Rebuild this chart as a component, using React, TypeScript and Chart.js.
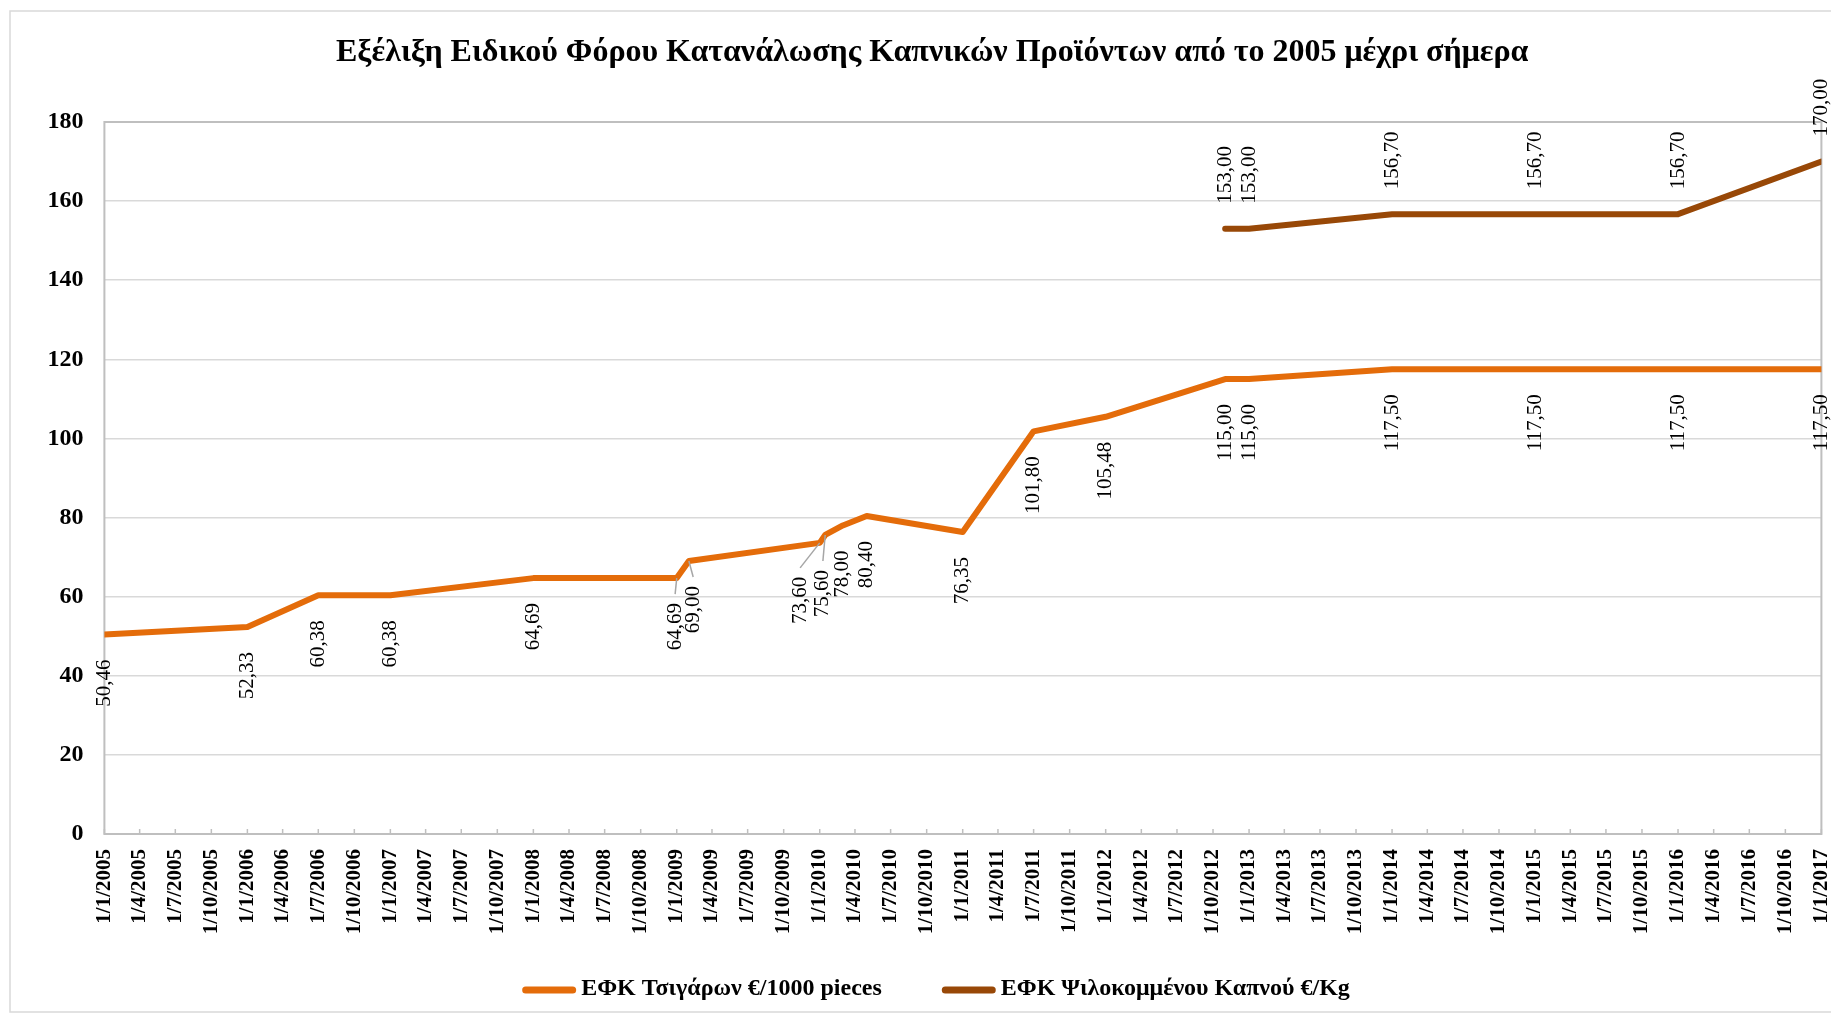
import React, { useEffect, useRef } from "react";
import { Chart, registerables } from "chart.js";

Chart.register(...registerables);

// ---------------- data ----------------
const TITLE = "Εξέλιξη Ειδικού Φόρου Κατανάλωσης Καπνικών Προϊόντων από το 2005 μέχρι σήμερα";
const CIG_LABEL = "ΕΦΚ Τσιγάρων €/1000 pieces";
const TOB_LABEL = "ΕΦΚ Ψιλοκομμένου Καπνού €/Kg";

const cigDates = [
  "2005-01-01", "2006-01-01", "2006-07-01", "2007-01-01", "2008-01-01",
  "2009-01-01", "2009-02-01", "2010-01-01", "2010-01-15", "2010-03-01",
  "2010-05-01", "2011-01-01", "2011-07-01", "2012-01-01", "2012-11-01",
  "2013-01-01", "2014-01-01", "2015-01-01", "2016-01-01", "2017-01-01",
];
const cigValues = [
  50.46, 52.33, 60.38, 60.38, 64.69,
  64.69, 69.0, 73.6, 75.6, 78.0,
  80.4, 76.35, 101.8, 105.48, 115.0,
  115.0, 117.5, 117.5, 117.5, 117.5,
];

const tobDates = ["2012-11-01", "2013-01-01", "2014-01-01", "2015-01-01", "2016-01-01", "2017-01-01"];
const tobValues = [153.0, 153.0, 156.7, 156.7, 156.7, 170.0];

const axisStart = "2005-01-01";
const axisEnd = "2017-01-01";
const tickMonthStep = 3;
const yMin = 0;
const yMax = 180;
const yStep = 20;

// ---------------- styles ----------------
const CIG_COLOR = "#E46C0A";
const TOB_COLOR = "#984807";
const SERIF = '"Liberation Serif", "Times New Roman", serif';
const W = 1823;
const H = 1005;
const AREA_LEFT = 96.4;
const AREA_RIGHT = 1813.4;
const AREA_TOP = 114;
const AREA_BOTTOM = 826;
const PAD_LEFT = 35;
const LEGEND_CX = 928;
const LEGEND_Y = 981;
const TITLE_SIZE = 32;
const TITLE_PAD_TOP = 25.6;

const DAY = 86400000;
function toUTC(s: string) {
  const [y, m, d] = s.split("-").map(Number);
  return Date.UTC(y, m - 1, d);
}
const BASE = toUTC(axisStart);
function dayIndex(s: string) {
  return (toUTC(s) - BASE) / DAY;
}
function quarterTicks(): number[] {
  const out: number[] = [];
  const [sy, sm] = axisStart.split("-").map(Number);
  const end = toUTC(axisEnd);
  let y = sy;
  let m = sm - 1;
  while (true) {
    const t = Date.UTC(y, m, 1);
    if (t > end) break;
    out.push((t - BASE) / DAY);
    m += tickMonthStep;
    if (m >= 12) {
      m -= 12;
      y += 1;
    }
  }
  return out;
}
function fmtDate(v: number) {
  const d = new Date(BASE + Math.round(v) * DAY);
  return `${d.getUTCDate()}/${d.getUTCMonth() + 1}/${d.getUTCFullYear()}`;
}
function fmtVal(v: number) {
  return v.toFixed(2).replace(".", ",");
}

// manual label tweaks (Excel-moved labels with leader lines)
const labelAdjust: Record<string, { dx: number; dy: number; leader: boolean }> = {
  "0-5": { dx: -1.6, dy: 0, leader: true },
  "0-6": { dx: 4.3, dy: 0, leader: true },
  "0-7": { dx: -19.6, dy: 9, leader: true },
  "0-8": { dx: -2.3, dy: 10, leader: true },
};

const frameBorder = {
  id: "frameBorder",
  beforeDraw(chart: any) {
    const ctx = chart.ctx;
    ctx.save();
    ctx.fillStyle = "#ffffff";
    ctx.fillRect(0, 0, chart.width, chart.height);
    ctx.strokeStyle = "#D9D9D9";
    ctx.lineWidth = 1.5;
    ctx.strokeRect(2, 3, chart.width + 10, chart.height - 4);
    ctx.restore();
  },
};

const areaBorder = {
  id: "areaBorder",
  beforeDatasetsDraw(chart: any) {
    const { ctx, chartArea } = chart;
    const xs = chart.scales.x;
    ctx.save();
    ctx.strokeStyle = "#BFBFBF";
    ctx.lineWidth = 1.5;
    for (const t of xs.ticks) {
      const px = xs.getPixelForValue(t.value);
      ctx.beginPath();
      ctx.moveTo(px, chartArea.bottom);
      ctx.lineTo(px, chartArea.bottom - 5);
      ctx.stroke();
    }
    ctx.lineWidth = 2;
    ctx.strokeRect(chartArea.left, chartArea.top, chartArea.right - chartArea.left, chartArea.bottom - chartArea.top);
    ctx.restore();
  },
};

const valueLabels = {
  id: "valueLabels",
  afterDatasetsDraw(chart: any) {
    const ctx = chart.ctx;
    ctx.save();
    ctx.font = `21px ${SERIF}`;
    ctx.fillStyle = "#000000";
    ctx.textBaseline = "middle";
    const gap = 25;
    chart.data.datasets.forEach((ds: any, di: number) => {
      const meta = chart.getDatasetMeta(di);
      const below = di === 0;
      meta.data.forEach((pt: any, i: number) => {
        const v = ds.data[i].y;
        const text = fmtVal(v);
        const adj = labelAdjust[`${di}-${i}`] || { dx: 0, dy: 0, leader: false };
        const lx = pt.x + adj.dx;
        const tw = ctx.measureText(text).width;
        let top: number;
        if (below) {
          top = pt.y + gap + adj.dy;
        } else {
          top = pt.y - gap - tw + adj.dy;
        }
        if (adj.leader) {
          ctx.save();
          ctx.strokeStyle = "#A6A6A6";
          ctx.lineWidth = 1.5;
          ctx.beginPath();
          ctx.moveTo(pt.x, pt.y);
          ctx.lineTo(lx, top - 9);
          ctx.stroke();
          ctx.restore();
        }
        ctx.save();
        ctx.translate(lx, top);
        ctx.rotate(-Math.PI / 2);
        ctx.textAlign = "right";
        ctx.fillText(text, 0, 0);
        ctx.restore();
      });
    });
    ctx.restore();
  },
};

const customLegend = {
  id: "customLegend",
  afterDraw(chart: any) {
    const ctx = chart.ctx;
    ctx.save();
    ctx.font = `bold 24px ${SERIF}`;
    ctx.textBaseline = "middle";
    ctx.textAlign = "left";
    const items = chart.data.datasets.map((ds: any) => ({ text: ds.label, color: ds.borderColor }));
    const barW = 54;
    const gapText = 5;
    const spacing = 60;
    const widths = items.map((it: any) => ctx.measureText(it.text).width);
    let total = 0;
    widths.forEach((w: number, i: number) => {
      total += barW + gapText + w + (i > 0 ? spacing : 0);
    });
    let x = LEGEND_CX - total / 2;
    items.forEach((it: any, i: number) => {
      ctx.strokeStyle = it.color;
      ctx.lineWidth = 7;
      ctx.lineCap = "round";
      ctx.beginPath();
      ctx.moveTo(x + 3.5, LEGEND_Y + 1);
      ctx.lineTo(x + barW - 3.5, LEGEND_Y + 1);
      ctx.stroke();
      ctx.fillStyle = "#000000";
      ctx.fillText(it.text, x + barW + gapText, LEGEND_Y);
      x += barW + gapText + widths[i] + spacing;
    });
    ctx.restore();
  },
};

export default function App() {
  const ref = useRef<HTMLCanvasElement | null>(null);
  useEffect(() => {
    if (!ref.current) return;
    const ticks = quarterTicks();
    const chart = new Chart(ref.current, {
      type: "line",
      data: {
        datasets: [
          {
            label: CIG_LABEL,
            data: cigDates.map((d, i) => ({ x: dayIndex(d), y: cigValues[i] })),
            borderColor: CIG_COLOR,
            backgroundColor: CIG_COLOR,
            borderWidth: 6,
            pointRadius: 0,
            pointHoverRadius: 0,
            tension: 0,
            borderCapStyle: "round",
            borderJoinStyle: "round",
            fill: false,
          },
          {
            label: TOB_LABEL,
            data: tobDates.map((d, i) => ({ x: dayIndex(d), y: tobValues[i] })),
            borderColor: TOB_COLOR,
            backgroundColor: TOB_COLOR,
            borderWidth: 6,
            pointRadius: 0,
            pointHoverRadius: 0,
            tension: 0,
            borderCapStyle: "round",
            borderJoinStyle: "round",
            fill: false,
          },
        ],
      },
      options: {
        responsive: false,
        maintainAspectRatio: false,
        animation: false,
        events: [],
        layout: { padding: { left: PAD_LEFT, right: W - AREA_RIGHT, top: 0, bottom: 0 } },
        plugins: {
          legend: { display: false },
          tooltip: { enabled: false },
          title: {
            display: true,
            text: TITLE,
            color: "#000000",
            font: { family: SERIF, size: TITLE_SIZE, weight: "bold" },
            padding: { top: TITLE_PAD_TOP, bottom: AREA_TOP - TITLE_PAD_TOP - TITLE_SIZE * 1.2 },
          },
        },
        scales: {
          x: {
            type: "linear",
            min: 0,
            max: dayIndex(axisEnd),
            grid: { display: false, drawTicks: false },
            border: { display: false },
            afterBuildTicks: (s: any) => {
              s.ticks = ticks.map((v) => ({ value: v }));
            },
            afterFit: (s: any) => {
              s.height = H - AREA_BOTTOM;
              s.paddingLeft = 0;
              s.paddingRight = 0;
            },
            ticks: {
              autoSkip: false,
              minRotation: 90,
              maxRotation: 90,
              padding: 15,
              color: "#000000",
              font: { family: SERIF, size: 21, weight: "bold" },
              callback: (v: any) => fmtDate(Number(v)),
            },
          },
          y: {
            min: yMin,
            max: yMax,
            grid: { color: "#D9D9D9", lineWidth: 1.5, drawTicks: false },
            border: { display: false },
            afterFit: (s: any) => {
              s.width = AREA_LEFT - PAD_LEFT;
              s.paddingTop = 0;
              s.paddingBottom = 0;
            },
            ticks: {
              stepSize: yStep,
              padding: 21,
              color: "#000000",
              font: { family: SERIF, size: 24, weight: "bold" },
            },
          },
        },
      },
      plugins: [frameBorder, areaBorder, valueLabels, customLegend],
    } as any);
    return () => chart.destroy();
  }, []);
  return (
    <div style={{ width: W, height: H }}>
      <canvas ref={ref} width={W} height={H} style={{ width: W, height: H, display: "block" }} />
    </div>
  );
}
